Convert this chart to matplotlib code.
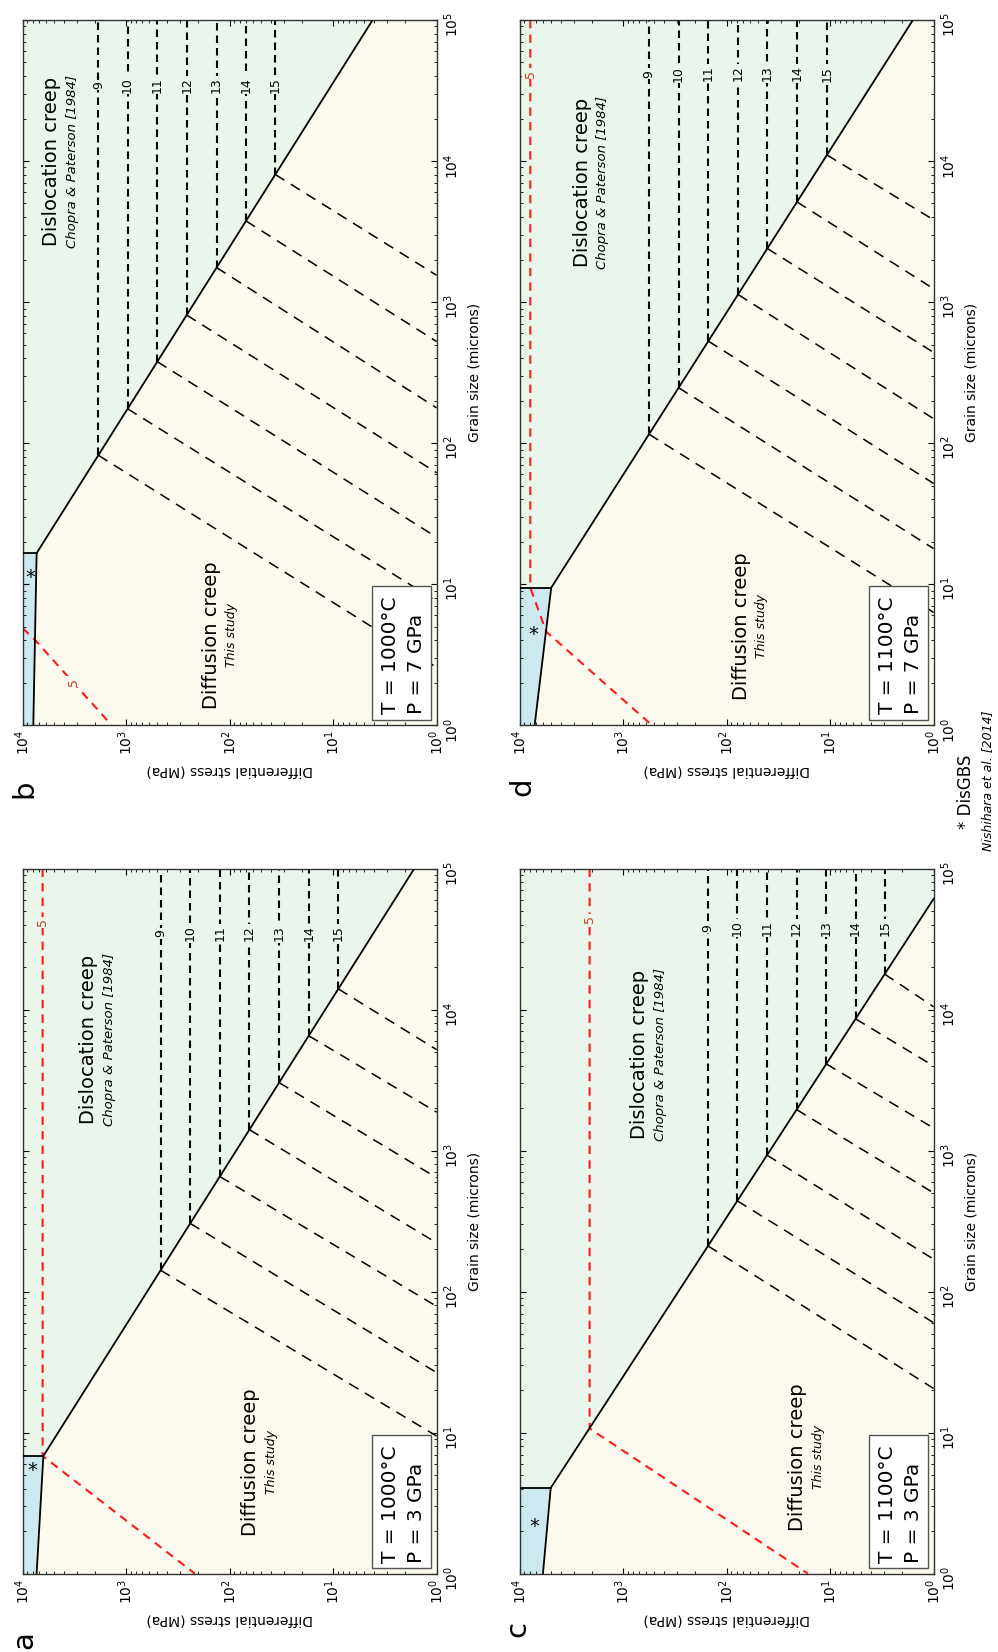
import numpy as np
import matplotlib.pyplot as plt
from matplotlib.patches import Rectangle

# field colours
DIFF_COLOR = '#fcfaef'
DISL_COLOR = '#eaf6ec'
GBS_COLOR = '#cde9ef'
RED = '#ff1a1a'
RED_TEXT = '#c8401a'

# -log10 strain rate of the iso-rate contours
RATES = [9, 10, 11, 12, 13, 14, 15]
RED_RATE = 5

# all values are log10: stress in MPa, grain size in microns
# boundary: [GBS/diffusion at d=1, triple corner, end of diffusion/dislocation line]
A_BOUND_LOGS = [3.865, 3.800, 0.216]
A_BOUND_LOGD = [0.0, 0.835, 5.0]
A_DISL_LOGS = [2.667, 2.381, 2.095, 1.809, 1.522, 1.236, 0.950]
A_DIFF_END_LOGD = [0.976, 1.426, 1.896, 2.346, 2.808, 3.273, 3.716]
A_RED_LOGS = [3.807, 3.807, 2.335]
A_RED_LOGD = [5.0, 0.835, 0.0]
A_STAR = (3.907, 0.732)

B_BOUND_LOGS = [3.897, 3.865, 0.618]
B_BOUND_LOGD = [0.0, 1.220, 5.0]
B_DISL_LOGS = [3.269, 2.986, 2.699, 2.415, 2.126, 1.842, 1.559]
B_DIFF_END_LOGD = [0.41, 0.88, 1.333, 1.79, 2.25, 2.72, 3.19]
B_RED_LOGS = [4.0, 3.881, 3.14]
B_RED_LOGD = [0.688, 0.605, 0.0]
B_STAR = (3.923, 1.05)

C_BOUND_LOGS = [3.775, 3.700, 0.0]
C_BOUND_LOGD = [0.0, 0.608, 4.786]
C_DISL_LOGS = [2.180, 1.897, 1.610, 1.324, 1.037, 0.754, 0.473]
C_DIFF_END_LOGD = [1.313, 1.78, 2.23, 2.70, 3.16, 3.60, 4.02]
C_RED_LOGS = [3.324, 3.324, 1.214]
C_RED_LOGD = [5.0, 1.03, 0.0]
C_STAR = (3.855, 0.338)

D_BOUND_LOGS = [3.855, 3.695, 0.200]
D_BOUND_LOGD = [0.0, 0.975, 5.0]
D_DISL_LOGS = [2.750, 2.464, 2.177, 1.890, 1.607, 1.320, 1.031]
D_DIFF_END_LOGD = [0.80, 1.252, 1.714, 2.173, 2.643, 3.094, 3.583]
D_RED_LOGS = [3.897, 3.897, 3.743, 2.722]
D_RED_LOGD = [5.0, 0.975, 0.663, 0.0]
D_STAR = (3.871, 0.64)

TEMPS = {'a': 'T = 1000°C', 'b': 'T = 1000°C', 'c': 'T = 1100°C', 'd': 'T = 1100°C'}
PRESSURES = {'a': 'P = 3 GPa', 'b': 'P = 7 GPa', 'c': 'P = 3 GPa', 'd': 'P = 7 GPa'}

panels = {
    'a': dict(bs=A_BOUND_LOGS, bd=A_BOUND_LOGD, disl=A_DISL_LOGS, diff=A_DIFF_END_LOGD,
              rs=A_RED_LOGS, rd=A_RED_LOGD, star=A_STAR),
    'b': dict(bs=B_BOUND_LOGS, bd=B_BOUND_LOGD, disl=B_DISL_LOGS, diff=B_DIFF_END_LOGD,
              rs=B_RED_LOGS, rd=B_RED_LOGD, star=B_STAR),
    'c': dict(bs=C_BOUND_LOGS, bd=C_BOUND_LOGD, disl=C_DISL_LOGS, diff=C_DIFF_END_LOGD,
              rs=C_RED_LOGS, rd=C_RED_LOGD, star=C_STAR),
    'd': dict(bs=D_BOUND_LOGS, bd=D_BOUND_LOGD, disl=D_DISL_LOGS, diff=D_DIFF_END_LOGD,
              rs=D_RED_LOGS, rd=D_RED_LOGD, star=D_STAR),
}

# layout (the whole figure is turned by 90 degrees: stress runs left->right, grain size upward)
layout = {
    'a': dict(rect=[0.0227, 0.0474, 0.4148, 0.4268], label_xy=(32, 1640),
              disl_txt=(0.159, 0.758), diff_txt=(0.551, 0.158), num_logd=4.54, red_lab=(3.807, 4.62)),
    'b': dict(rect=[0.0227, 0.5610, 0.4148, 0.4269], label_xy=(32, 789),
              disl_txt=(0.070, 0.800), diff_txt=(0.455, 0.128), num_logd=4.54, red_lab=(3.504, 0.31)),
    'c': dict(rect=[0.5207, 0.0474, 0.4148, 0.4268], label_xy=(525, 1629),
              disl_txt=(0.290, 0.736), diff_txt=(0.672, 0.165), num_logd=4.58, red_lab=(3.324, 4.64)),
    'd': dict(rect=[0.5207, 0.5610, 0.4148, 0.4269], label_xy=(530, 787),
              disl_txt=(0.151, 0.769), diff_txt=(0.535, 0.141), num_logd=4.62, red_lab=(3.897, 4.62)),
}

W, H = 998, 1652
fig = plt.figure(figsize=(W / 100, H / 100), dpi=100)


def draw_panel(ax, key):
    p = panels[key]
    lay = layout[key]
    bs = 10 ** np.array(p['bs'])
    bd = 10 ** np.array(p['bd'])

    ax.set_xscale('log')
    ax.set_yscale('log')
    ax.set_facecolor(DIFF_COLOR)

    # dislocation and DisGBS fields
    ax.fill([bs[1], bs[2], 1, 1e4, 1e4], [bd[1], bd[2], 1e5, 1e5, bd[1]],
            color=DISL_COLOR, lw=0, zorder=1)
    ax.fill([1e4, bs[0], bs[1], 1e4], [1, 1, bd[1], bd[1]], color=GBS_COLOR, lw=0, zorder=1)
    ax.plot(bs, bd, color='k', lw=1.3, zorder=4)
    ax.plot([1e4, bs[1]], [bd[1], bd[1]], color='k', lw=1.3, zorder=4)

    # iso strain-rate lines
    for rate, ls, de in zip(RATES, p['disl'], p['diff']):
        di = np.interp(ls, [p['bs'][2], p['bs'][1]], [p['bd'][2], p['bd'][1]])
        ax.plot([10 ** ls, 10 ** ls], [10 ** di, 1e5], color='k', lw=1.5,
                ls=(0, (3.6, 2.4)), zorder=2)
        ax.plot([10 ** ls, 1], [10 ** di, 10 ** de], color='k', lw=1.1,
                ls=(0, (7, 5)), zorder=2)
        ax.text(10 ** ls, 10 ** lay['num_logd'], str(rate), rotation=90, ha='center',
                va='center', fontsize=9, zorder=3,
                bbox=dict(fc=DISL_COLOR, ec='none', pad=1.0))

    ax.plot(10 ** np.array(p['rs']), 10 ** np.array(p['rd']), color=RED, lw=1.5,
            ls=(0, (4, 3)), zorder=2)
    rx, ry = lay['red_lab']
    ax.text(10 ** rx, 10 ** ry, str(RED_RATE), rotation=90, ha='center', va='center',
            fontsize=9, color=RED_TEXT, zorder=3,
            bbox=dict(fc=DISL_COLOR if ry > 2 else DIFF_COLOR, ec='none', pad=1.0))

    sx, sy = p['star']
    ax.text(10 ** sx, 10 ** sy, '*', fontsize=14, ha='center', va='center', zorder=4)

    tx, ty = lay['disl_txt']
    ax.text(tx, ty, 'Dislocation creep', transform=ax.transAxes, rotation=90,
            ha='center', va='center', fontsize=14, zorder=5)
    ax.text(tx + 0.05, ty, 'Chopra & Paterson [1984]', transform=ax.transAxes, rotation=90,
            ha='center', va='center', fontsize=9.5, style='italic', zorder=5)
    tx, ty = lay['diff_txt']
    ax.text(tx, ty, 'Diffusion creep', transform=ax.transAxes, rotation=90,
            ha='center', va='center', fontsize=14, zorder=5)
    ax.text(tx + 0.05, ty, 'This study', transform=ax.transAxes, rotation=90,
            ha='center', va='center', fontsize=9, style='italic', zorder=5)

    # conditions box
    ax.add_patch(Rectangle((0.843, 0.008), 0.143, 0.189, transform=ax.transAxes,
                           fc='white', ec='#555555', lw=1.0, zorder=6))
    ax.text(0.903, 0.0156, TEMPS[key], transform=ax.transAxes, rotation=90,
            rotation_mode='anchor', ha='left', va='baseline', fontsize=14.5, zorder=7)
    ax.text(0.964, 0.0156, PRESSURES[key], transform=ax.transAxes, rotation=90,
            rotation_mode='anchor', ha='left', va='baseline', fontsize=14.5, zorder=7)

    ax.set_xlim(1e4, 1)
    ax.set_ylim(1, 1e5)
    ax.tick_params(which='both', direction='in', top=True, bottom=True, left=True,
                   right=True, labelleft=False, labelright=True, labelsize=10)
    ax.tick_params(which='major', length=4.5, width=0.8)
    ax.tick_params(which='minor', length=2.2, width=0.6)
    ax.tick_params(axis='x', labelrotation=90)
    ax.tick_params(axis='y', labelrotation=90, pad=4.5)
    ax.yaxis.set_label_position('right')
    ax.set_ylabel('Grain size (microns)', fontsize=10, rotation=90, labelpad=4)
    ax.set_xlabel('Differential stress (MPa)', fontsize=10, rotation=180, labelpad=6)
    for sp in ax.spines.values():
        sp.set_color('#333333')
        sp.set_linewidth(1.0)

    lx, ly = lay['label_xy']
    fig.text(lx / W, 1 - ly / H, key, rotation=90, rotation_mode='anchor',
             ha='center', va='baseline', fontsize=21)


for key in ['a', 'b', 'c', 'd']:
    ax = fig.add_axes(layout[key]['rect'])
    draw_panel(ax, key)

fig.text(966 / W, 1 - 792 / H, '* DisGBS', rotation=90, ha='center', va='center', fontsize=12)
fig.text(988 / W, 1 - 781 / H, 'Nishihara et al. [2014]', rotation=90, ha='center',
         va='center', fontsize=9, style='italic')

fig.savefig('out.png', dpi=100)
